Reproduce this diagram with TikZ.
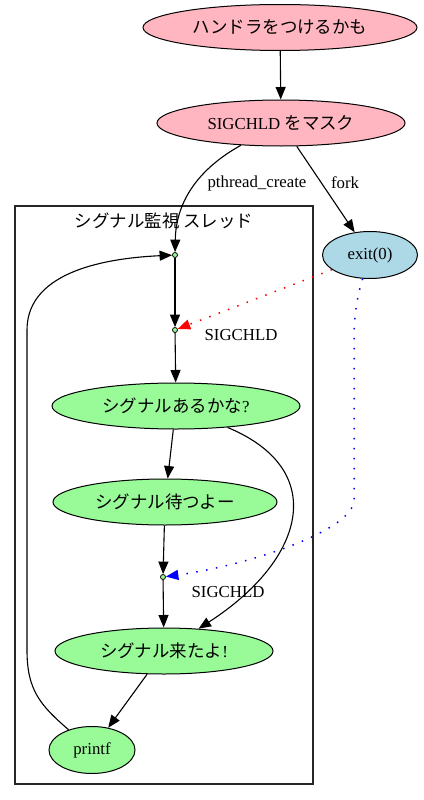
\documentclass[tikz,border=0pt]{standalone}
\usepackage{fontspec}
\setmainfont{Liberation Serif}
\newfontfamily\cjk{Noto Sans CJK JP}[Scale=1.04]
\usetikzlibrary{arrows.meta,shapes.geometric}
\definecolor{gvpink}{HTML}{FFB6C1}
\definecolor{gvblue}{HTML}{ADD8E6}
\definecolor{gvgreen}{HTML}{98FB98}
\begin{document}
\begin{tikzpicture}[x=1pt,y=-1pt,
  every node/.style={font=\fontsize{16.8}{20}\selectfont},
  gvnode/.style={ellipse, draw, line width=1pt, inner sep=0pt, minimum height=46pt},
  pinknode/.style={gvnode, fill=gvpink},
  bluenode/.style={gvnode, fill=gvblue},
  greennode/.style={gvnode, fill=gvgreen},
  ptnode/.style={circle, draw, fill=gvgreen, inner sep=0pt, minimum size=5pt, line width=0.8pt},
  edge/.style={line width=1.1pt, -{Triangle[length=12.5pt,width=10pt]}},
  reddot/.style={red, line width=1.5pt, dash pattern=on 1.5pt off 8.5pt, -{Triangle[length=12.5pt,width=10pt,fill=red]}},
  bluedot/.style={blue, line width=1.5pt, dash pattern=on 1.5pt off 8.5pt, -{Triangle[length=12.5pt,width=10pt,fill=blue]}},
  lbl/.style={inner sep=0pt}
]
\useasboundingbox (0,0) rectangle (423,800);
% cluster
\draw[line width=1.1pt, draw=black!85] (15,206) rectangle (313,784);
\node[lbl] (clab) at (164,221) {\cjk シグナル監視 スレッド};
% nodes
\node[pinknode, minimum width=274pt] (top) at (280,27.5) {\cjk ハンドラをつけるかも};
\node[pinknode, minimum width=248pt] (mask) at (281,123) {SIGCHLD {\cjk をマスク}};
\node[bluenode, minimum width=95pt, minimum height=47pt] (exit) at (370,255) {exit(0)};
\node[ptnode] (p1) at (175,255) {};
\node[ptnode] (p2) at (175,330) {};
\node[greennode, minimum width=248pt] (ask) at (176,406) {{\cjk シグナルあるかな}?};
\node[greennode, minimum width=224pt] (wait) at (165,502) {\cjk シグナル待つよー};
\node[ptnode] (p3) at (163,577) {};
\node[greennode, minimum width=218pt] (come) at (164,651) {{\cjk シグナル来たよ}!};
\node[greennode, minimum width=86pt, minimum height=47pt] (pf) at (92,750) {printf};
% labels
\node[lbl] (lpt) at (257,183) {pthread\_create};
\node[lbl] (lfork) at (345,183) {fork};
\node[lbl] (lsig1) at (241,335) {SIGCHLD};
\node[lbl] (lsig2) at (228,592) {SIGCHLD};
% edges
\draw[edge] (top) -- (mask);
\draw[edge] (mask) .. controls (200,168) and (176,200) .. (p1);
\draw[edge] (mask) -- (exit);
\draw[edge] (p1) -- (p2);
\draw[reddot] (exit) -- (p2);
\draw[edge] (p2) -- (ask);
\draw[edge] (ask) -- (wait);
\draw[edge] (ask) .. controls (330,470) and (305,560) .. (come);
\draw[edge] (wait) -- (p3);
\draw[bluedot] (exit) .. controls (356,300) and (354,320) .. (354,340) -- (354,500) .. controls (354,530) and (250,565) .. (p3);
\draw[edge] (p3) -- (come);
\draw[edge] (come) -- (pf);
\draw[edge] (pf) .. controls (40,705) and (27,690) .. (27,650) -- (27,330) .. controls (27,270) and (110,258) .. (p1);
\end{tikzpicture}
\end{document}
